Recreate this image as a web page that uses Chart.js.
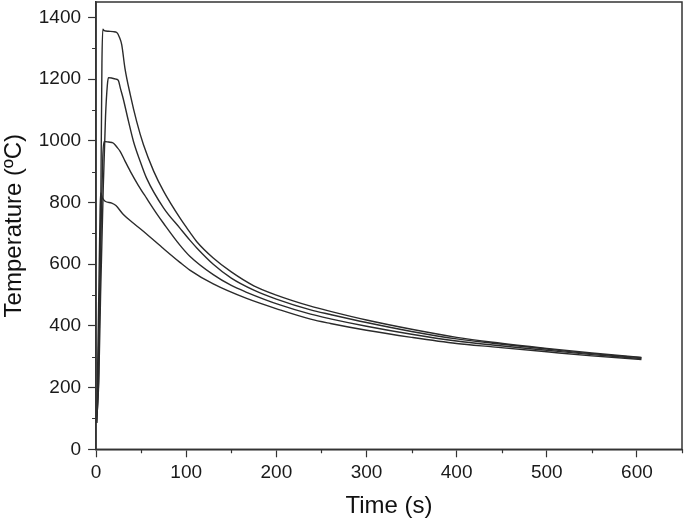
<!DOCTYPE html>
<html>
<head>
<meta charset="utf-8">
<script src="https://cdn.jsdelivr.net/npm/chart.js@4"></script>
<style>
html,body{margin:0;padding:0;background:#fff;}
#wrap{width:685px;height:521px;}
</style>
</head>
<body>
<div id="wrap"><canvas id="c" width="685" height="521"></canvas></div>
<script>
// Data
const time1360 = [0.5, 3, 5, 6.5, 7.5, 9, 14, 19, 23, 26, 28.5, 32, 38, 45, 52.6, 64, 75, 93, 104, 112, 130, 150, 175, 200, 238, 260, 300, 350, 400, 440, 500, 550, 605];
const temp1360 = [85, 250, 700, 1250, 1362, 1357, 1355, 1354, 1351, 1335, 1311, 1236, 1149, 1063, 987, 901, 836, 750, 704, 672, 620, 575, 530, 500, 464, 447, 419, 389, 363, 347, 327, 312, 298];

const time1200 = [0.5, 3, 5, 8, 10.5, 12.5, 13.7, 18, 22, 24.8, 27, 30, 36, 41.5, 49, 56, 75, 93, 104, 112, 130, 150, 175, 200, 238, 260, 300, 350, 400, 440, 500, 550, 605];
const temp1200 = [85, 220, 500, 850, 1080, 1180, 1205, 1203, 1200, 1195, 1170, 1138, 1063, 998, 933, 879, 782, 717, 678, 652, 600, 555, 516, 487, 452, 437, 411, 382, 358, 344, 325, 310, 297];

const time1000 = [0.5, 2, 4, 6, 7.5, 9, 14, 19, 23, 26.7, 32, 38, 47, 56, 67, 75, 93, 104, 130, 150, 167, 204, 238, 260, 300, 350, 400, 440, 500, 550, 605];
const temp1000 = [85, 220, 480, 780, 950, 998, 996, 993, 980, 966, 935, 901, 855, 814, 765, 732, 662, 626, 566, 531, 509, 468, 438, 423, 399, 373, 351, 338, 321, 307, 294];

const time800 = [0.5, 1.5, 3, 4.5, 5.2, 7, 10, 17.4, 22, 30, 41.5, 56, 75, 93, 104, 130, 167, 204, 238, 260, 300, 350, 400, 440, 500, 550, 605];
const temp800 = [85, 220, 500, 780, 831, 815, 804, 798, 790, 762, 733, 698, 650, 606, 581, 536, 489, 452, 422, 408, 386, 363, 343, 332, 316, 303, 291];

const xMajorTicks = [0, 100, 200, 300, 400, 500, 600];
const xMinorTicks = [50, 150, 250, 350, 450, 550, 650];
const yMajorTicks = [0, 200, 400, 600, 800, 1000, 1200, 1400];
const yMinorTicks = [100, 300, 500, 700, 900, 1100, 1300];

const xTitle = 'Time (s)';
const yTitle = 'Temperature (ºC)';

function pts(ts, vs) { return ts.map((t, i) => ({ x: t, y: vs[i] })); }

const lineColor = '#2b2b2b';
function ds(ts, vs) {
  return {
    data: pts(ts, vs),
    borderColor: lineColor,
    borderWidth: 1.4,
    pointRadius: 0,
    fill: false,
    cubicInterpolationMode: 'monotone'
  };
}

const frameAndMinor = {
  id: 'frameAndMinor',
  afterDraw(chart) {
    const ctx = chart.ctx;
    const a = chart.chartArea;
    const xs = chart.scales.x, ys = chart.scales.y;
    ctx.save();
    ctx.strokeStyle = '#333';
    ctx.lineWidth = 1.5;
    ctx.strokeRect(a.left, a.top, a.right - a.left, a.bottom - a.top);
    ctx.lineWidth = 1.2;
    ctx.beginPath();
    xMinorTicks.forEach(v => {
      const px = Math.round(xs.getPixelForValue(v)) + 0.5;
      ctx.moveTo(px, a.bottom);
      ctx.lineTo(px, a.bottom + 4);
    });
    yMinorTicks.forEach(v => {
      const py = Math.round(ys.getPixelForValue(v)) + 0.5;
      ctx.moveTo(a.left, py);
      ctx.lineTo(a.left - 4, py);
    });
    ctx.stroke();
    ctx.restore();
  }
};

const FONT = 'Liberation Sans, Arial, sans-serif';

new Chart(document.getElementById('c'), {
  type: 'line',
  data: {
    datasets: [ds(time1360, temp1360), ds(time1200, temp1200), ds(time1000, temp1000), ds(time800, temp800)]
  },
  options: {
    responsive: false,
    animation: false,
    devicePixelRatio: 1,
    layout: { padding: { top: 2, right: 3, left: 0, bottom: 0 } },
    plugins: { legend: { display: false }, tooltip: { enabled: false } },
    scales: {
      x: {
        type: 'linear',
        min: 0,
        max: 650,
        afterBuildTicks: s => { s.ticks = xMajorTicks.map(v => ({ value: v })); },
        afterFit: s => { s.paddingLeft = 0; s.paddingRight = 0; },
        ticks: {
          autoSkip: false,
          maxRotation: 0,
          color: '#1a1a1a',
          padding: 5,
          font: { family: FONT, size: 19, lineHeight: 1.1 },
          callback: v => String(v)
        },
        grid: { drawOnChartArea: false, tickLength: 8, tickColor: '#333', tickWidth: 1.2 },
        border: { color: '#333', width: 1.5 },
        title: {
          display: true, text: xTitle, color: '#111',
          font: { family: FONT, size: 24, lineHeight: 1.2 },
          padding: { top: 4, bottom: 0 }
        }
      },
      y: {
        type: 'linear',
        min: 0,
        max: 1450,
        afterBuildTicks: s => { s.ticks = yMajorTicks.map(v => ({ value: v })); },
        afterFit: s => { s.paddingTop = 0; s.paddingBottom = 0; },
        ticks: {
          autoSkip: false,
          color: '#1a1a1a',
          padding: 7,
          font: { family: FONT, size: 19 },
          callback: v => String(v)
        },
        grid: { drawOnChartArea: false, tickLength: 8, tickColor: '#333', tickWidth: 1.2 },
        border: { color: '#333', width: 1.5 },
        title: {
          display: true, text: yTitle, color: '#111',
          font: { family: FONT, size: 24, lineHeight: 1.2 },
          padding: { top: 0, bottom: 3 }
        }
      }
    }
  },
  plugins: [frameAndMinor]
});
</script>
</body>
</html>
